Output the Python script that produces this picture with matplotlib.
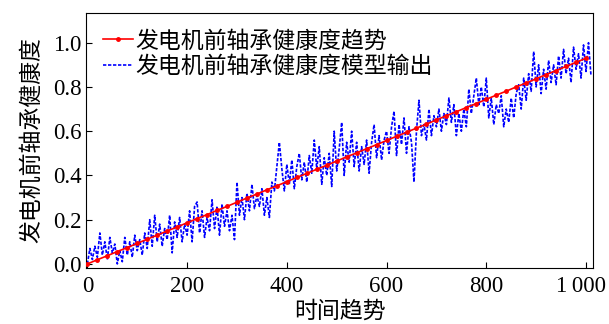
import numpy as np
import matplotlib.pyplot as plt
from matplotlib.transforms import ScaledTranslation

plt.rcParams['font.family'] = ['Liberation Serif', 'Noto Sans CJK SC']
plt.rcParams['axes.unicode_minus'] = False

# trend line (one point every 20 time steps)
trend_x = np.arange(0, 1001, 20)
trend_y = [0.000, 0.019, 0.037, 0.056, 0.074, 0.093, 0.112, 0.130, 0.149, 0.167,
           0.186, 0.205, 0.223, 0.242, 0.260, 0.279, 0.298, 0.316, 0.335, 0.353,
           0.372, 0.391, 0.409, 0.428, 0.446, 0.465, 0.484, 0.502, 0.521, 0.539,
           0.558, 0.577, 0.595, 0.614, 0.632, 0.651, 0.670, 0.688, 0.707, 0.725,
           0.744, 0.763, 0.781, 0.800, 0.818, 0.837, 0.856, 0.874, 0.893, 0.911,
           0.930]

# model output (read every 5 time steps)
model_x = np.arange(0, 1011, 5)
model_y = [0.00, 0.07, 0.02, 0.08, 0.03, 0.14, 0.04, 0.10, 0.02, 0.12,
           0.05, 0.09, 0.00, 0.06, 0.01, 0.12, 0.04, 0.10, 0.03, 0.13,
           0.06, 0.11, 0.04, 0.14, 0.07, 0.20, 0.08, 0.22, 0.10, 0.18,
           0.08, 0.16, 0.11, 0.22, 0.05, 0.19, 0.12, 0.21, 0.10, 0.18,
           0.13, 0.24, 0.10, 0.26, 0.28, 0.14, 0.24, 0.12, 0.21, 0.15,
           0.29, 0.16, 0.26, 0.13, 0.27, 0.17, 0.24, 0.15, 0.22, 0.11,
           0.37, 0.22, 0.30, 0.20, 0.32, 0.24, 0.36, 0.25, 0.31, 0.26,
           0.34, 0.22, 0.30, 0.21, 0.37, 0.33, 0.44, 0.55, 0.43, 0.33,
           0.45, 0.36, 0.47, 0.34, 0.44, 0.50, 0.38, 0.46, 0.37, 0.49,
           0.41, 0.56, 0.43, 0.53, 0.36, 0.48, 0.40, 0.50, 0.35, 0.60,
           0.42, 0.52, 0.64, 0.40, 0.55, 0.46, 0.60, 0.44, 0.55, 0.42,
           0.53, 0.45, 0.56, 0.41, 0.55, 0.63, 0.48, 0.58, 0.47, 0.56,
           0.60, 0.50, 0.62, 0.69, 0.49, 0.63, 0.54, 0.66, 0.50, 0.62,
           0.55, 0.37, 0.60, 0.74, 0.58, 0.63, 0.56, 0.70, 0.58, 0.67,
           0.62, 0.70, 0.60, 0.68, 0.63, 0.75, 0.64, 0.72, 0.58, 0.68,
           0.60, 0.70, 0.62, 0.79, 0.68, 0.76, 0.84, 0.72, 0.80, 0.71,
           0.84, 0.66, 0.75, 0.63, 0.72, 0.68, 0.76, 0.62, 0.70, 0.64,
           0.75, 0.66, 0.77, 0.81, 0.70, 0.84, 0.74, 0.86, 0.78, 0.96,
           0.80, 0.90, 0.77, 0.88, 0.79, 0.92, 0.82, 0.90, 0.81, 0.94,
           0.84, 0.97, 0.86, 0.93, 0.82, 0.98, 0.88, 0.95, 0.84, 0.99,
           0.87, 1.00, 0.85]

x_ticks = [0, 200, 400, 600, 800, 1000]
x_ticklabels = ['0', '200', '400', '600', '800', '1\u2009000']
y_ticks = [0.0, 0.2, 0.4, 0.6, 0.8, 1.0]

fig = plt.figure(figsize=(6.09, 3.24), dpi=100)
ax = fig.add_axes([0.1412, 0.1738, 0.8330, 0.7852])

ax.plot(trend_x, trend_y, color='#ff0000', lw=1.2, marker='o', ms=2.5,
        label='发电机前轴承健康度趋势', zorder=3)
ax.plot(model_x, model_y, color='#0000ff', lw=1.2, ls=(0, (2, 1)),
        label='发电机前轴承健康度模型输出', zorder=2)

ax.set_xlim(-2.8, 1014.6)
ax.set_ylim(-0.017, 1.133)
ax.set_xticks(x_ticks)
ax.set_xticklabels(x_ticklabels)
ax.set_yticks(y_ticks)
ax.set_yticklabels(['%.1f' % v for v in y_ticks])
ax.tick_params(direction='in', length=4.3, width=0.8, labelsize=16.5)
ax.tick_params(axis='x', pad=6)
ax.tick_params(axis='y', pad=3)

# the last label sits a little left of its tick, as in the original
last = ax.get_xticklabels()[-1]
last.set_transform(last.get_transform() + ScaledTranslation(-0.05, 0, fig.dpi_scale_trans))

ax.set_xlabel('时间趋势', fontsize=16.5, labelpad=3)
ax.set_ylabel('发电机前轴承健康度', fontsize=16.5, labelpad=7)

ax.legend(loc='upper left', bbox_to_anchor=(0.0, 1.0), frameon=False,
          fontsize=16.5, handlelength=1.3, handletextpad=0.1,
          labelspacing=0.2, borderpad=0.3, borderaxespad=0.45)

fig.savefig('out.png', dpi=100)
